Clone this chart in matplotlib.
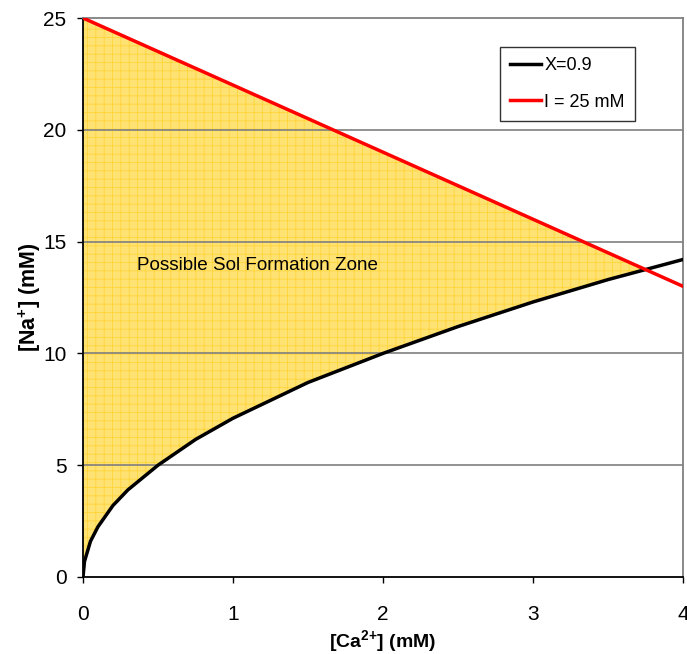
import numpy as np
import matplotlib
matplotlib.use("Agg")
import matplotlib.pyplot as plt

plt.rcParams['font.family'] = ['Liberation Sans', 'DejaVu Sans']
plt.rcParams['mathtext.fontset'] = 'custom'
plt.rcParams['mathtext.rm'] = 'Liberation Sans'
plt.rcParams['mathtext.bf'] = 'Liberation Sans:bold'
plt.rcParams['hatch.linewidth'] = 0.6

# Data
ca_x09 = [0, 0.01, 0.05, 0.1, 0.2, 0.3, 0.5, 0.75, 1.0, 1.5, 2.0, 2.5, 3.0, 3.5, 4.0]
na_x09 = [0, 0.7, 1.6, 2.25, 3.2, 3.9, 5.0, 6.15, 7.1, 8.7, 10.0, 11.2, 12.3, 13.3, 14.2]
ca_i25 = [0, 4.0]
na_i25 = [25.0, 13.0]

xticks = [0, 1, 2, 3, 4]
yticks = [0, 5, 10, 15, 20, 25]

fig = plt.figure(figsize=(6.87, 6.54), dpi=100)
ax = fig.add_axes([83/687, 1-577/654, 600/687, 559/654])

xf = np.linspace(0, 4, 801)
yb = np.interp(xf, ca_x09, na_x09)
yr = np.interp(xf, ca_i25, na_i25)
ax.fill_between(xf, yb, yr, where=yr >= yb, interpolate=True,
                facecolor='#FFE274', edgecolor='#FFD43A', hatch='++', linewidth=0, zorder=1)

for y in yticks[1:-1]:
    ax.axhline(y, color='#7f7f7f', lw=1.2, zorder=2)

ax.plot(ca_x09, na_x09, color='black', lw=2.5, zorder=3, label='X=0.9')
ax.plot(ca_i25, na_i25, color='#ff0000', lw=2.5, zorder=4, label='I = 25 mM')

ax.set_xlim(0, 4)
ax.set_ylim(0, 25)
ax.set_xticks(xticks)
ax.set_yticks(yticks)
ax.tick_params(labelsize=15, direction='out', length=4.3, width=1)
ax.tick_params(axis='y', pad=7.5)
ax.tick_params(axis='x', pad=15.5)

for s in ['left', 'bottom']:
    ax.spines[s].set_color('black')
    ax.spines[s].set_linewidth(1.3)
for s in ['top', 'right']:
    ax.spines[s].set_color('#808080')
    ax.spines[s].set_linewidth(1.3)

ax.set_xlabel('[Ca$^{\\mathbf{2{+}}}$] (mM)', fontsize=14, fontweight='bold')
ax.set_ylabel('[Na$^{\\mathbf{{+}}}$] (mM)', fontsize=15.5, fontweight='bold')
ax.xaxis.set_label_coords(0.5, (577-628)/559)
ax.yaxis.set_label_coords((43-83)/600, 0.5)

ax.text(0.36, 13.95, 'Possible Sol Formation Zone', fontsize=13.6, va='center', ha='left', zorder=5)

leg = ax.legend(loc='upper left', bbox_to_anchor=((500-83)/600, (577-47)/559),
                fontsize=13, frameon=True, fancybox=False, edgecolor='black',
                handlelength=1.7, handletextpad=0.2, borderpad=0.55, labelspacing=1.1,
                borderaxespad=0)
leg.get_frame().set_linewidth(1.0)
leg.set_zorder(6)

fig.savefig('out.png', dpi=100)
